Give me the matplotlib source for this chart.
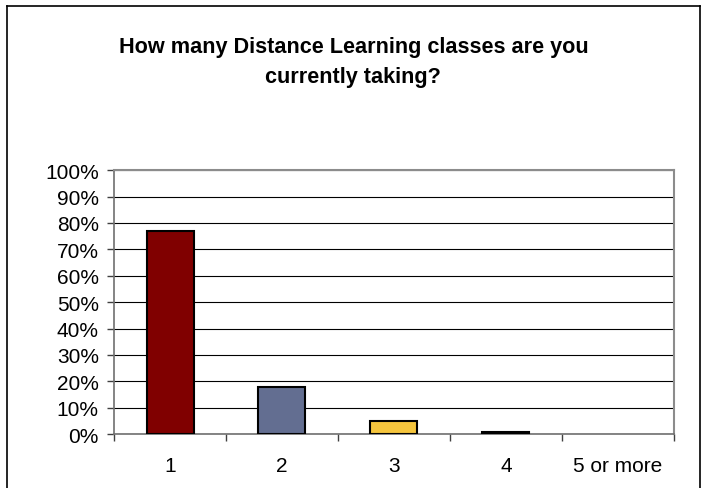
import matplotlib.pyplot as plt
from matplotlib.lines import Line2D
import numpy as np

plt.rcParams['font.family'] = ['Liberation Sans', 'DejaVu Sans']

categories = ["1", "2", "3", "4", "5 or more"]
shares = [77, 18, 5, 1, 0]
colors = ["#800000", "#636E91", "#F5C53D", "#000000", "#FFFFFF"]
yticks = list(range(0, 101, 10))

fig = plt.figure(figsize=(7.04, 4.89), dpi=100)
ax = fig.add_axes([0.162, 0.110, 0.795, 0.540])

x = np.arange(len(categories))
edges = ["black" if v > 0 else "none" for v in shares]
ax.bar(x, shares, width=0.42, color=colors, edgecolor=edges, linewidth=1.5, zorder=3)

ax.set_xlim(-0.5, len(categories) - 0.5)
ax.set_ylim(0, 100)
ax.set_yticks(yticks)
ax.set_yticklabels([f"{v}%" for v in yticks], fontsize=15)
ax.yaxis.grid(True, color="black", linewidth=0.8, zorder=0)
ax.set_axisbelow(True)

ax.set_xticks(x)
ax.set_xticklabels(categories, fontsize=15)
ax.set_xticks(np.arange(-0.5, len(categories)), minor=True)
ax.tick_params(axis="x", which="major", length=0, pad=16)
ax.tick_params(axis="x", which="minor", length=5, width=1, color="#404040")
ax.tick_params(axis="y", length=5, width=1, color="#404040", pad=6)

for side in ["top", "right"]:
    ax.spines[side].set_color("#8C8C8C")
    ax.spines[side].set_linewidth(1.5)
ax.spines["left"].set_color("#707070")
ax.spines["bottom"].set_color("#707070")
ax.spines["left"].set_linewidth(1.2)
ax.spines["bottom"].set_linewidth(1.2)

fig.text(0.502, 0.872, "How many Distance Learning classes are you\ncurrently taking?",
         ha="center", va="center", fontsize=15.6, fontweight="bold", linespacing=1.55)

# outer frame, open at the bottom
fx0, fx1, fy1 = 7 / 704, 700 / 704, 1 - 7 / 489
for xs, ys in [([fx0, fx0], [-0.1, fy1]), ([fx0, fx1], [fy1, fy1]), ([fx1, fx1], [fy1, -0.1])]:
    fig.add_artist(Line2D(xs, ys, color="black", linewidth=1.2, transform=fig.transFigure))

fig.savefig("out.png", dpi=100)
